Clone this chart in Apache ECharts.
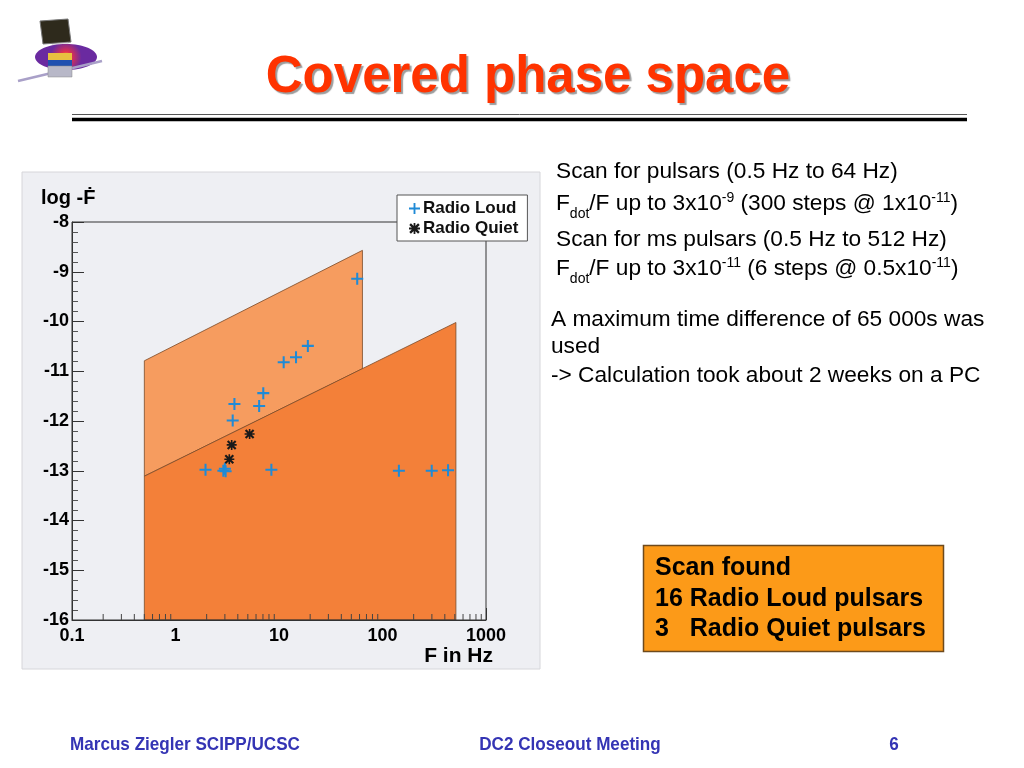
<!DOCTYPE html>
<html>
<head>
<meta charset="utf-8">
<script src="https://cdn.jsdelivr.net/npm/echarts@6/dist/echarts.min.js"></script>
<style>
html,body{margin:0;padding:0;background:#fff;}
#chart{width:1024px;height:768px;}
</style>
</head>
<body>
<div id="chart"></div>
<script>
// ---------- data ----------
const xTickLabels = ['0.1', '1', '10', '100', '1000'];
const yTickLabels = ['-16', '-15', '-14', '-13', '-12', '-11', '-10', '-9', '-8'];
const xMinorTicks = [0.2, 0.3, 0.4, 0.5, 0.6, 0.7, 0.8, 0.9,
                     2, 3, 4, 5, 6, 7, 8, 9,
                     20, 30, 40, 50, 60, 70, 80, 90,
                     200, 300, 400, 500, 600, 700, 800, 900];

// scanned regions (frequency in Hz, log -Fdot)
const pulsarScanF = [0.5, 64, 64, 0.5];
const pulsarScanY = [-10.79, -8.57, -10.95, -13.11];
const msScanF = [0.5, 0.5, 512, 512];
const msScanY = [-16, -13.11, -10.02, -16];

// found pulsars
const radioLoudF = [57, 11.1, 14.6, 19.0, 7.05, 3.71, 6.43, 3.57, 1.95, 2.9, 3.0, 3.05, 8.44, 144, 299, 430];
const radioLoudY = [-9.14, -10.82, -10.72, -10.49, -11.44, -11.66, -11.70, -11.99, -12.98, -13.0, -12.96, -13.01, -12.98, -13.0, -13.0, -12.99];
const radioQuietF = [5.2, 3.49, 3.31];
const radioQuietY = [-12.26, -12.48, -12.77];

// ---------- styling helpers ----------
const FONT = '"Liberation Sans", Arial, Helvetica, sans-serif';
const plusPath = 'path://M-0.17,-1H0.17V-0.17H1V0.17H0.17V1H-0.17V0.17H-1V-0.17H-0.17Z';
const starPath = 'path://M-0.16,-1H0.16V1H-0.16Z M-1,-0.16H1V0.16H-1Z ' +
  'M-0.65,-0.95L0.95,0.65L0.65,0.95L-0.95,-0.65Z ' +
  'M-0.95,0.65L0.65,-0.95L0.95,-0.65L-0.65,0.95Z';

function polygonSeries(fs, ys, color, z) {
  return {
    type: 'custom',
    silent: true,
    z: z,
    clip: true,
    data: [[fs[0], ys[0]]],
    renderItem: function (params, api) {
      const pts = fs.map(function (f, i) { return api.coord([f, ys[i]]); });
      return {
        type: 'polygon',
        shape: { points: pts },
        style: { fill: color, stroke: '#7a4a28', lineWidth: 0.8 }
      };
    }
  };
}

function richLine(text, x, y) {
  return { type: 'text', z: 10, style: {
    text: text, x: x, y: y, textVerticalAlign: 'middle', fill: '#000',
    rich: {
      n: { fontFamily: FONT, fontSize: 22.7, lineHeight: 26, fill: '#000' },
      sub: { fontFamily: FONT, fontSize: 14, lineHeight: 14, verticalAlign: 'bottom', fill: '#000', padding: [0, 0, -4, 0] },
      sup: { fontFamily: FONT, fontSize: 14, lineHeight: 14, verticalAlign: 'top', fill: '#000' }
    } } };
}

function plainLine(text, x, y) {
  return { type: 'text', z: 10, style: { text: text, x: x, y: y, font: '22.7px ' + FONT, fill: '#000', textVerticalAlign: 'middle' } };
}

function footer(text, x, align) {
  return { type: 'text', z: 10, x: x, y: 745, scaleX: 0.9, scaleY: 1,
    style: { text: text, x: 0, y: 0, font: 'bold 19px ' + FONT, fill: '#3434b4', textAlign: align, textVerticalAlign: 'middle' } };
}

const chart = echarts.init(document.getElementById('chart'), null, { renderer: 'canvas' });

const option = {
  animation: false,
  backgroundColor: '#ffffff',
  grid: {
    left: 72, right: 538, top: 222, bottom: 148,
    show: true, backgroundColor: 'transparent',
    borderColor: '#333', borderWidth: 1, z: 3
  },
  legend: {
    data: ['Radio Loud', 'Radio Quiet'],
    orient: 'vertical',
    left: 397, top: 195,
    backgroundColor: '#ffffff',
    borderColor: '#555', borderWidth: 1,
    padding: [5, 9, 4, 12],
    itemGap: 3,
    itemWidth: 11, itemHeight: 11,
    textStyle: { fontFamily: FONT, fontWeight: 'bold', fontSize: 17, color: '#111', padding: [0, 0, 0, -2] },
    z: 20
  },
  xAxis: {
    type: 'log', logBase: 10, min: 0.1, max: 1000,
    axisLine: { show: true, lineStyle: { color: '#333' } },
    axisTick: { show: true, inside: true, length: 12, lineStyle: { color: '#333' } },
    splitLine: { show: false },
    axisLabel: {
      fontFamily: FONT, fontWeight: 'bold', fontSize: 18, color: '#000', margin: 7,
      formatter: function (v) {
        const l = xTickLabels.find(function (s) { return Math.abs(Math.log10(Number(s)) - Math.log10(v)) < 1e-6; });
        return l === undefined ? '' : l;
      }
    }
  },
  yAxis: {
    type: 'value', min: -16, max: -8, interval: 1,
    axisLine: { show: true, lineStyle: { color: '#333' } },
    axisTick: { show: true, inside: true, length: 12, lineStyle: { color: '#333' } },
    minorTick: { show: true, splitNumber: 5, length: 6, lineStyle: { color: '#555' } },
    splitLine: { show: false },
    axisLabel: {
      fontFamily: FONT, fontWeight: 'bold', fontSize: 18, color: '#000', margin: 3,
      formatter: function (v) {
        const l = yTickLabels.find(function (s) { return Number(s) === v; });
        return l === undefined ? '' : l;
      }
    }
  },
  series: [
    polygonSeries(pulsarScanF, pulsarScanY, '#f69c5f', 1),
    polygonSeries(msScanF, msScanY, '#f38039', 1),
    {
      type: 'custom', silent: true, z: 4, clip: false,
      data: xMinorTicks.map(function (v) { return [v, -16]; }),
      renderItem: function (params, api) {
        const p = api.coord([api.value(0), api.value(1)]);
        return {
          type: 'line',
          shape: { x1: p[0], y1: p[1], x2: p[0], y2: p[1] - 6 },
          style: { stroke: '#444', lineWidth: 1 }
        };
      }
    },
    {
      name: 'Radio Loud', type: 'scatter', z: 6,
      symbol: plusPath, symbolSize: 12,
      itemStyle: { color: '#1f8ad6', opacity: 1 },
      data: radioLoudF.map(function (f, i) { return [f, radioLoudY[i]]; })
    },
    {
      name: 'Radio Quiet', type: 'scatter', z: 7,
      symbol: starPath, symbolSize: 10,
      itemStyle: { color: '#1a1a1a', opacity: 1 },
      data: radioQuietF.map(function (f, i) { return [f, radioQuietY[i]]; })
    }
  ],
  graphic: [
    // canvas panel
    { type: 'rect', z: -10, silent: true, shape: { x: 22, y: 172, width: 518, height: 497 },
      style: { fill: '#eeeff3', stroke: '#d6d6da', lineWidth: 1 } },
    // axis titles
    { type: 'text', z: 10, style: { text: 'log -Ḟ', x: 41, y: 198, font: 'bold 20px ' + FONT, fill: '#000', textVerticalAlign: 'middle' } },
    { type: 'text', z: 10, style: { text: 'F in Hz', x: 493, y: 656, font: 'bold 21px ' + FONT, fill: '#000', textAlign: 'right', textVerticalAlign: 'middle' } },

    // logo
    { type: 'polygon', z: 10, silent: true, shape: { points: [[40, 21], [68, 19], [71, 42], [43, 44]] },
      style: { fill: '#2e2a1c', stroke: '#777', lineWidth: 1 } },
    { type: 'polygon', z: 10, silent: true, shape: { points: [[52, 44], [68, 42], [72, 54], [50, 56]] },
      style: { fill: 'rgba(200,190,200,0.5)' } },
    { type: 'ellipse', z: 10, silent: true, shape: { cx: 66, cy: 57, rx: 31, ry: 13 },
      style: { fill: new echarts.graphic.RadialGradient(0.5, 0.5, 0.6, [
        { offset: 0, color: '#ffb030' }, { offset: 0.35, color: '#e03050' }, { offset: 1, color: '#6a2aa0' }]) } },
    { type: 'polyline', z: 11, silent: true, shape: { points: [[18, 81], [102, 61]] },
      style: { stroke: '#a9a0c8', lineWidth: 2.5 } },
    { type: 'rect', z: 12, silent: true, shape: { x: 48, y: 53, width: 24, height: 7 }, style: { fill: '#e8c040' } },
    { type: 'rect', z: 12, silent: true, shape: { x: 48, y: 60, width: 24, height: 6 }, style: { fill: '#2050b0' } },
    { type: 'rect', z: 12, silent: true, shape: { x: 48, y: 66, width: 24, height: 11 }, style: { fill: '#b8b8c8', stroke: '#888', lineWidth: 0.5 } },

    // title
    { type: 'text', z: 10, style: { text: 'Covered phase space', x: 528, y: 78, font: 'bold 51px ' + FONT,
      fill: '#ff3300', textAlign: 'center', textVerticalAlign: 'middle',
      textShadowColor: 'rgba(90,90,90,0.6)', textShadowOffsetX: 2, textShadowOffsetY: 2, textShadowBlur: 1 } },
    // rules
    { type: 'line', z: 10, silent: true, shape: { x1: 72, y1: 114.5, x2: 967, y2: 114.5 }, style: { stroke: '#555', lineWidth: 1 } },
    { type: 'line', z: 10, silent: true, shape: { x1: 72, y1: 119.5, x2: 967, y2: 119.5 }, style: { stroke: '#000', lineWidth: 3.5 } },

    // right text
    plainLine('Scan for pulsars (0.5 Hz to 64 Hz)', 556, 172),
    richLine('{n|F}{sub|dot}{n|/F up to 3x10}{sup|-9}{n| (300 steps @ 1x10}{sup|-11}{n|)}', 556, 204),
    plainLine('Scan for ms pulsars (0.5 Hz to 512 Hz)', 556, 240),
    richLine('{n|F}{sub|dot}{n|/F up to 3x10}{sup|-11}{n| (6 steps @ 0.5x10}{sup|-11}{n|)}', 556, 269),
    plainLine('A maximum time difference of 65 000s was', 551, 320),
    plainLine('used', 551, 347),
    plainLine('-> Calculation took about 2 weeks on a PC', 551, 376),

    // result box
    { type: 'rect', z: 10, silent: true, shape: { x: 643.5, y: 545.5, width: 300, height: 106 },
      style: { fill: '#fc9a18', stroke: '#6e4a1c', lineWidth: 1.5 } },
    { type: 'text', z: 11, style: { text: 'Scan found', x: 655, y: 568, font: 'bold 25px ' + FONT, fill: '#000', textVerticalAlign: 'middle' } },
    { type: 'text', z: 11, style: { text: '16 Radio Loud pulsars', x: 655, y: 599, font: 'bold 25px ' + FONT, fill: '#000', textVerticalAlign: 'middle' } },
    { type: 'text', z: 11, style: { text: '3   Radio Quiet pulsars', x: 655, y: 629, font: 'bold 25px ' + FONT, fill: '#000', textVerticalAlign: 'middle' } },

    // footer
    footer('Marcus Ziegler SCIPP/UCSC', 70, 'left'),
    footer('DC2 Closeout Meeting', 570, 'center'),
    footer('6', 894, 'center')
  ]
};

chart.setOption(option);
</script>
</body>
</html>
